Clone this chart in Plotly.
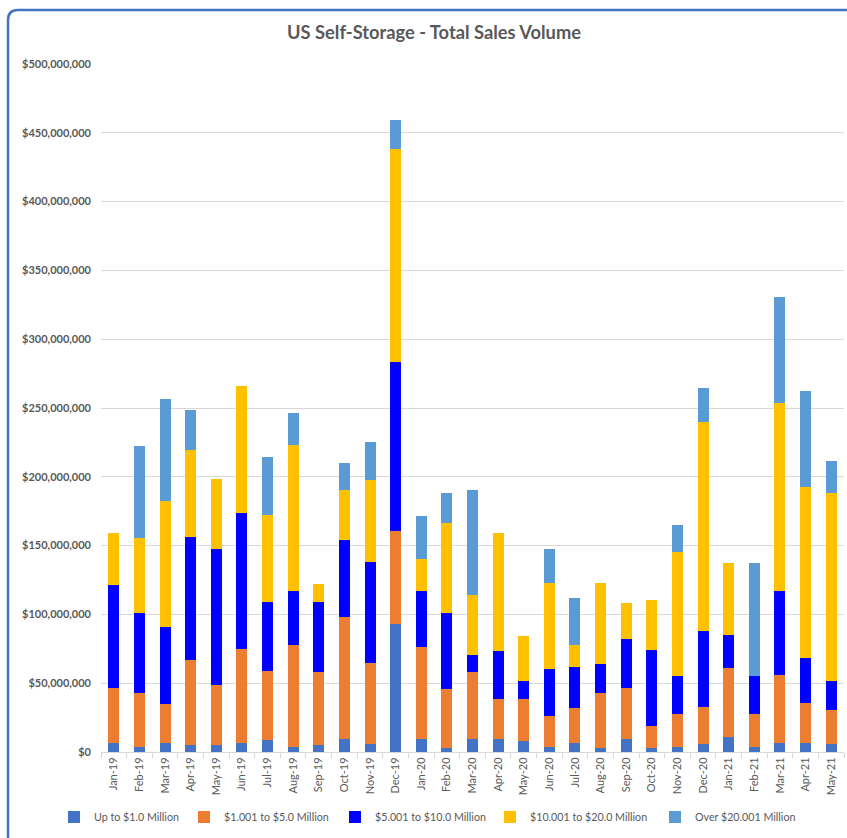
import plotly.graph_objects as go

months = ["Jan-19", "Feb-19", "Mar-19", "Apr-19", "May-19", "Jun-19", "Jul-19", "Aug-19",
          "Sep-19", "Oct-19", "Nov-19", "Dec-19", "Jan-20", "Feb-20", "Mar-20", "Apr-20",
          "May-20", "Jun-20", "Jul-20", "Aug-20", "Sep-20", "Oct-20", "Nov-20", "Dec-20",
          "Jan-21", "Feb-21", "Mar-21", "Apr-21", "May-21"]

# values in $ millions
up_to_1m = [6.8, 3.9, 6.8, 4.8, 4.8, 6.8, 8.7, 3.9, 4.8, 9.7, 5.8, 93.3, 9.7, 2.9, 9.7, 9.7,
            7.7, 3.9, 6.8, 2.9, 9.7, 2.9, 3.9, 5.8, 10.9, 3.9, 6.8, 6.8, 5.8]
m1_to_5 = [40.0, 39.0, 28.1, 62.1, 44.1, 68.3, 50.2, 74.1, 53.1, 88.4, 59.1, 67.1, 66.4, 42.9,
           48.2, 29.1, 31.1, 22.0, 24.9, 40.0, 37.1, 16.0, 24.0, 27.1, 50.1, 24.0, 49.2, 29.1, 25.0]
m5_to_10 = [74.3, 58.1, 56.2, 89.3, 98.4, 98.4, 50.3, 39.2, 51.3, 56.2, 73.4, 123.3, 41.1, 55.2,
            12.3, 34.4, 13.1, 34.2, 30.3, 21.1, 35.3, 55.2, 27.1, 55.3, 24.0, 27.1, 61.2, 32.2, 21.1]
m10_to_20 = [38.1, 54.3, 91.3, 63.3, 51.1, 92.2, 63.0, 106.2, 12.9, 36.1, 59.1, 154.5, 23.1, 65.2,
             43.9, 86.0, 32.1, 63.0, 16.0, 59.1, 25.9, 36.1, 90.1, 151.4, 52.1, 0, 136.4, 124.2, 136.6]
over_20m = [0, 67.1, 74.1, 29.0, 0, 0, 42.2, 23.2, 0, 19.9, 28.1, 21.1, 31.0, 22.3, 76.3, 0,
            0, 24.2, 34.2, 0, 0, 0, 20.1, 24.9, 0, 82.1, 77.1, 70.3, 23.0]

series_names = ["Up to $1.0 Million", "$1.001 to $5.0 Million", "$5.001 to $10.0 Million",
                "$10.001 to $20.0 Million", "Over $20.001 Million"]
series_values = [up_to_1m, m1_to_5, m5_to_10, m10_to_20, over_20m]
colors = ["#4472C4", "#ED7D31", "#0000FF", "#FFC000", "#5B9BD5"]

y_ticks = [0, 50e6, 100e6, 150e6, 200e6, 250e6, 300e6, 350e6, 400e6, 450e6, 500e6]

W, H = 847, 838
L, R, T, B = 101, 3, 64, 86
pw, ph = W - L - R, H - T - B


def px(x):
    return (x - L) / pw


def py(y):
    return (H - B - y) / ph


# pixel x where each legend entry's text should start
legend_text_x = [94, 224, 375, 530, 695]
legend_ids = ["legend", "legend2", "legend3", "legend4", "legend5"]

fig = go.Figure()
for name, vals, col, lid in zip(series_names, series_values, colors, legend_ids):
    fig.add_trace(go.Bar(x=months, y=[v * 1e6 for v in vals], name=name, legend=lid,
                         marker=dict(color=col, line=dict(width=0))))

font_family = "Lato, 'Liberation Sans', sans-serif"
gray = "#595959"

# rounded chart-area border (top-left corner visible)
border = (f"M {px(8)} {py(850)} L {px(8)} {py(20)} "
          f"Q {px(8)} {py(10)} {px(18)} {py(10)} L {px(860)} {py(10)}")

legend_layout = {}
for lid, tx in zip(legend_ids, legend_text_x):
    legend_layout[lid] = dict(orientation="h", x=px(tx - 40), xanchor="left",
                              y=py(817), yanchor="middle",
                              font=dict(size=10.7, color=gray, family=font_family),
                              itemwidth=30, bgcolor="rgba(0,0,0,0)")

fig.update_layout(
    width=W, height=H,
    margin=dict(l=L, r=R, t=T, b=B),
    barmode="stack",
    bargap=0.57,
    plot_bgcolor="white",
    paper_bgcolor="white",
    font=dict(family=font_family, color=gray),
    title=dict(text="US Self-Storage - Total Sales Volume",
               font=dict(size=18.3, color=gray, family=font_family, weight="bold"),
               x=434 / W, xanchor="center", xref="container",
               y=1 - 33 / H, yanchor="middle", yref="container"),
    xaxis=dict(type="category", tickangle=-90, tickfont=dict(size=11, color=gray),
               showline=True, linecolor="#D9D9D9", linewidth=1,
               ticks="outside", tickson="boundaries", ticklen=5, tickcolor="#D9D9D9",
               showgrid=False),
    yaxis=dict(range=[0, 500e6], tickvals=y_ticks, tickformat="$,.0f",
               tickfont=dict(size=11, color=gray, weight="bold"),
               showgrid=True, gridcolor="#D9D9D9", gridwidth=1,
               zeroline=False, showline=False, ticks="", ticklabelstandoff=9),
    showlegend=True,
    shapes=[dict(type="path", path=border, xref="paper", yref="paper",
                 line=dict(color="#4472C4", width=2.5), layer="above")],
    **legend_layout,
)

fig.write_html("out.html", config={"displayModeBar": False},
               post_script="document.body.style.margin='0px';")
